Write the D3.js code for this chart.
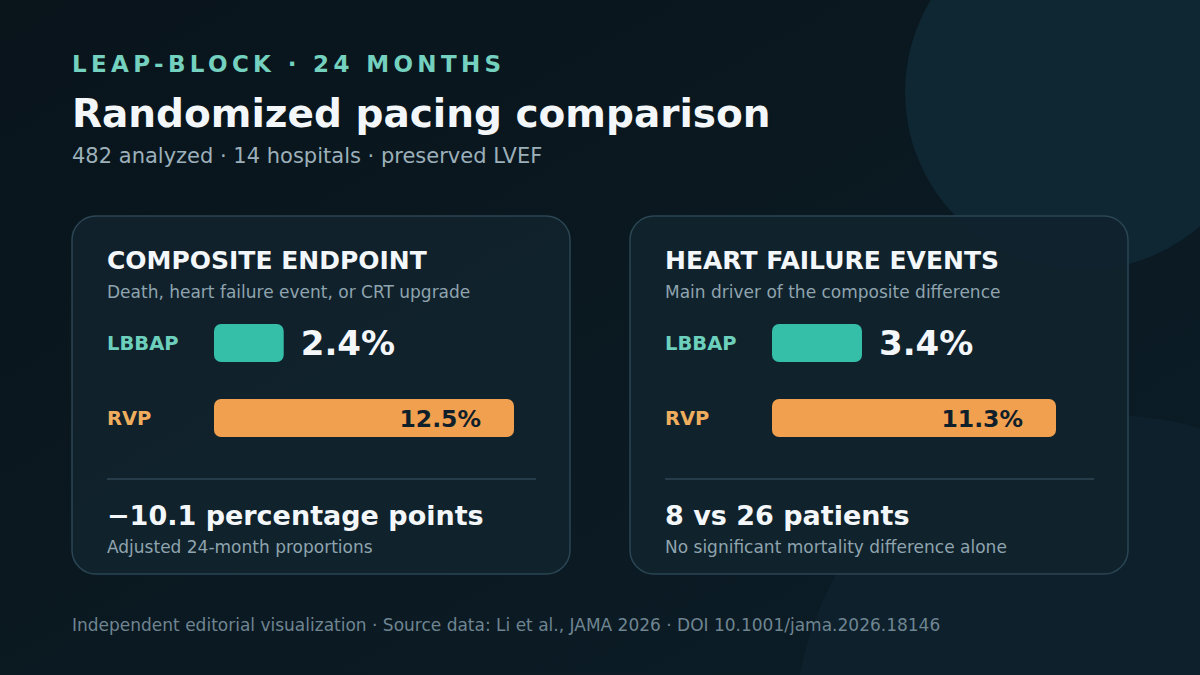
<!DOCTYPE html>
<html><head><meta charset="utf-8">
<script src="https://cdn.jsdelivr.net/npm/d3@7/dist/d3.min.js"></script>
<style>html,body{margin:0;padding:0;background:#0a1820;}svg{display:block;}</style>
</head><body>
<svg id="chart" width="1200" height="675"></svg>
<script>
// ---- data ----
const cardTitles = ["COMPOSITE ENDPOINT", "HEART FAILURE EVENTS"];
const cardSubtitles = ["Death, heart failure event, or CRT upgrade", "Main driver of the composite difference"];
const arms = ["LBBAP", "RVP"];
const lbbapValues = [2.4, 3.4];
const rvpValues = [12.5, 11.3];
const summaryHeadlines = ["\u221210.1 percentage points", "8 vs 26 patients"];
const summaryNotes = ["Adjusted 24-month proportions", "No significant mortality difference alone"];
const eyebrow = "LEAP-BLOCK \u00b7 24 MONTHS";
const title = "Randomized pacing comparison";
const subtitle = "482 analyzed \u00b7 14 hospitals \u00b7 preserved LVEF";
const footer = "Independent editorial visualization \u00b7 Source data: Li et al., JAMA 2026 \u00b7 DOI 10.1001/jama.2026.18146";

// ---- layout ----
const W = 1200, H = 675;
const FONT = "'DejaVu Sans', Verdana, sans-serif";
const svg = d3.select("#chart");
const defs = svg.append("defs");
const bg = defs.append("linearGradient").attr("id","bg").attr("x1","0").attr("y1","0").attr("x2","1").attr("y2","1");
bg.append("stop").attr("offset","0%").attr("stop-color","#09141b");
bg.append("stop").attr("offset","100%").attr("stop-color","#0c1d27");
svg.append("rect").attr("width",W).attr("height",H).attr("fill","url(#bg)");

// decorative circles
svg.append("circle").attr("cx",1083).attr("cy",92).attr("r",178).attr("fill","#0f2633");
svg.append("circle").attr("cx",1110).attr("cy",730).attr("r",315).attr("fill","#0d202b");

// header
svg.append("text").attr("x",72).attr("y",72).text(eyebrow)
  .attr("font-family",FONT).attr("font-weight","bold").attr("font-size",23)
  .attr("letter-spacing",4.35).attr("fill","#74d1bf");
svg.append("text").attr("x",72).attr("y",127).text(title)
  .attr("font-family",FONT).attr("font-weight","bold").attr("font-size",39).attr("fill","#f3f7fa");
svg.append("text").attr("x",72).attr("y",163).text(subtitle)
  .attr("font-family",FONT).attr("font-size",21).attr("fill","#9cb0ba");

// cards
const cardX = d3.scaleOrdinal().domain([0,1]).range([72,630]);
const cardY = 216, cardW = 498, cardH = 358;
const barX0 = 142;
const rowY = d3.scalePoint().domain(arms).range([108, 183]);
// per-card bar scales (value -> width)
const barScales = [
  d3.scaleLinear().domain([0, d3.max([lbbapValues[0], rvpValues[0]])]).range([15, 300]),
  d3.scaleLinear().domain([0, d3.max([lbbapValues[1], rvpValues[1]])]).range([6.5, 284])
];
const barH = 38;
const colors = {LBBAP:"#35bea8", RVP:"#f0a04f"};
const labelColors = {LBBAP:"#6dd0bc", RVP:"#efae5e"};

const cards = svg.selectAll("g.card").data(cardTitles.map((t,i)=>({i,t}))).enter()
  .append("g").attr("class","card").attr("transform",d=>`translate(${cardX(d.i)},${cardY})`);
cards.append("rect").attr("width",cardW).attr("height",cardH).attr("rx",24)
  .attr("fill","#11222d").attr("fill-opacity",0.96).attr("stroke","#2b4653").attr("stroke-width",1.5);
cards.append("text").attr("x",35).attr("y",53).text(d=>d.t)
  .attr("font-family",FONT).attr("font-weight","bold").attr("font-size",25).attr("fill","#f3f7fa");
cards.append("text").attr("x",35).attr("y",82).text(d=>cardSubtitles[d.i])
  .attr("font-family",FONT).attr("font-size",17).attr("fill","#8fa4ae");

cards.each(function(d){
  const g = d3.select(this);
  const sc = barScales[d.i];
  const rows = [{arm:"LBBAP", v:lbbapValues[d.i]}, {arm:"RVP", v:rvpValues[d.i]}];
  rows.forEach(r=>{
    const y = rowY(r.arm);
    g.append("text").attr("x",35).attr("y",y+barH/2+7).text(r.arm)
      .attr("font-family",FONT).attr("font-weight","bold").attr("font-size",19.5).attr("fill",labelColors[r.arm]);
    const w = sc(r.v);
    g.append("rect").attr("x",barX0).attr("y",y).attr("width",w).attr("height",barH).attr("rx",7)
      .attr("fill",colors[r.arm]);
    if (r.arm === "LBBAP") {
      g.append("text").attr("x",barX0+w+17).attr("y",y+barH/2+12).text(r.v.toFixed(1)+"%")
        .attr("font-family",FONT).attr("font-weight","bold").attr("font-size",34).attr("fill","#f3f7fa");
    } else {
      g.append("text").attr("x",barX0+w-33).attr("y",y+barH/2+8.5).attr("text-anchor","end").text(r.v.toFixed(1)+"%")
        .attr("font-family",FONT).attr("font-weight","bold").attr("font-size",23.5).attr("fill","#10202a");
    }
  });
  g.append("line").attr("x1",35).attr("x2",464).attr("y1",263).attr("y2",263)
    .attr("stroke","#2e4753").attr("stroke-width",1.5);
  g.append("text").attr("x",35).attr("y",309).text(summaryHeadlines[d.i])
    .attr("font-family",FONT).attr("font-weight","bold").attr("font-size",27).attr("fill","#f3f7fa");
  g.append("text").attr("x",35).attr("y",337).text(summaryNotes[d.i])
    .attr("font-family",FONT).attr("font-size",17).attr("fill","#8fa4ae");
});

svg.append("text").attr("x",72).attr("y",631).text(footer)
  .attr("font-family",FONT).attr("font-size",17).attr("fill","#6f8591");
</script>
</body></html>
